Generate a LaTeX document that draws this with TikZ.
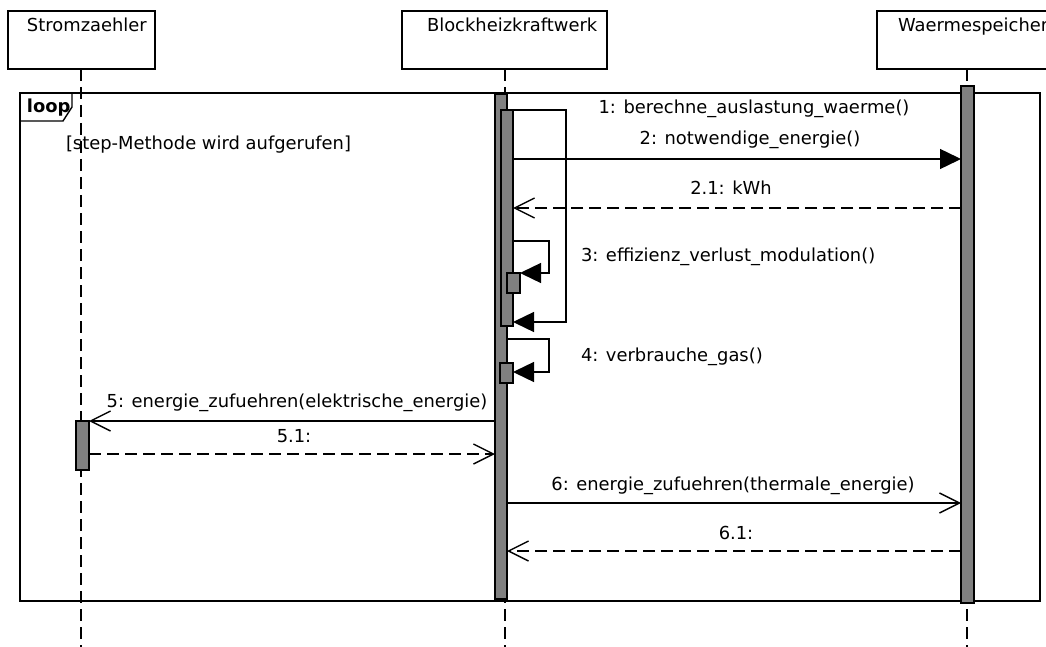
\documentclass[tikz,border=0pt]{standalone}
\usepackage{fontspec}
\setmainfont{DejaVu Sans}
\usetikzlibrary{arrows.meta}
\begin{document}
\begin{tikzpicture}[x=1pt,y=-1pt,
  every node/.style={font=\fontsize{17.9}{21}\selectfont, inner sep=0pt, outer sep=0pt},
  hdr/.style={draw, line width=1.4pt, fill=white, anchor=north west},
  bar/.style={draw, line width=1.4pt, fill=gray, anchor=north west},
  frm/.style={draw, line width=1.4pt, anchor=north west},
  life/.style={line width=1.4pt, dash pattern=on 12pt off 6pt},
  ln/.style={line width=1.4pt},
  call/.style={line width=1.4pt, -{Triangle[length=21pt,width=20pt]}},
  async/.style={line width=1.4pt, -{Straight Barb[length=20pt,width=20pt]}},
  reply/.style={line width=1.4pt, dash pattern=on 12pt off 6pt, -{Straight Barb[length=20pt,width=20pt]}},
  lbl/.style={anchor=base}]
\useasboundingbox (0,0) rectangle (1046,647);
\clip (0,0) rectangle (1046,647);
% loop frame
\node[frm, minimum width=1020pt, minimum height=508pt] (loopframe) at (20,93) {};
\draw[ln] (loopframe.north west) -- ++(52,0) -- ++(0,14) -- ++(-9,14) -- ++(-43,0);
\node[anchor=base west, font=\fontsize{17.9}{21}\selectfont\bfseries] (looptxt) at (27,113) {loop};
\node[anchor=base west] (guard) at (66,150) {[step-Methode wird aufgerufen]};
% headers
\node[hdr, minimum width=147pt, minimum height=58pt] (sz) at (8,11) {};
\node[hdr, minimum width=205pt, minimum height=58pt] (bh) at (402,11) {};
\node[hdr, minimum width=180pt, minimum height=58pt] (ws) at (877,11) {};
\node[anchor=base west] (szt) at (27,32) {Stromzaehler};
\node[anchor=base west] (bht) at (427,32) {Blockheizkraftwerk};
\node[anchor=base west] (wst) at (898,32) {Waermespeicher};
% lifelines
\coordinate (szend) at (81,650);
\coordinate (bhend) at (505,650);
\coordinate (wsend) at (967,650);
\draw[life] (sz.south -| szend) -- (szend);
\draw[life] (bh.south -| bhend) -- (bhend);
\draw[life] (ws.south -| wsend) -- (wsend);
% activation bars
\node[bar, minimum width=12pt, minimum height=505pt] (bA) at (495,94) {};
\node[bar, minimum width=12pt, minimum height=216pt] (bB) at (501,110) {};
\node[bar, minimum width=13pt, minimum height=20pt] (bC) at (507,273) {};
\node[bar, minimum width=13pt, minimum height=20pt] (bD) at (500,363) {};
\node[bar, minimum width=13pt, minimum height=517pt] (bW) at (961,86) {};
\node[bar, minimum width=13pt, minimum height=49pt] (bS) at (76,421) {};
% messages
\draw[call] (bB.north east) -- ++(53,0) |- (bB.east |- 0,322);
\node[lbl] (l1) at (754,114) {1: berechne\_auslastung\_waerme()};
\draw[call] (bB.east |- 0,159) -- (bW.west |- 0,159);
\node[lbl] (l2) at (750,145) {2: notwendige\_energie()};
\draw[reply] (bW.west |- 0,208) -- (bB.east |- 0,208);
\node[lbl] (l21) at (731,195) {2.1: kWh};
\draw[call] (bB.east |- 0,241) -- ++(36,0) |- (bC.north east);
\node[lbl, anchor=base west] (l3) at (581,261) {3: effizienz\_verlust\_modulation()};
\draw[call] (bA.east |- 0,339) -- ++(42,0) |- (bD.east |- 0,372);
\node[lbl, anchor=base west] (l4) at (581,361) {4: verbrauche\_gas()};
\draw[async] (bA.west |- 0,421) -- (bS.north east);
\node[lbl] (l5) at (297,407) {5: energie\_zufuehren(elektrische\_energie)};
\draw[reply] (bS.east |- 0,454) -- (bA.west |- 0,454);
\node[lbl] (l51) at (294,442) {5.1:};
\draw[async] (bA.east |- 0,503) -- (bW.west |- 0,503);
\node[lbl] (l6) at (733,490) {6: energie\_zufuehren(thermale\_energie)};
\draw[reply] (bW.west |- 0,551) -- (bA.east |- 0,551);
\node[lbl] (l61) at (736,539) {6.1:};
\end{tikzpicture}
\end{document}
